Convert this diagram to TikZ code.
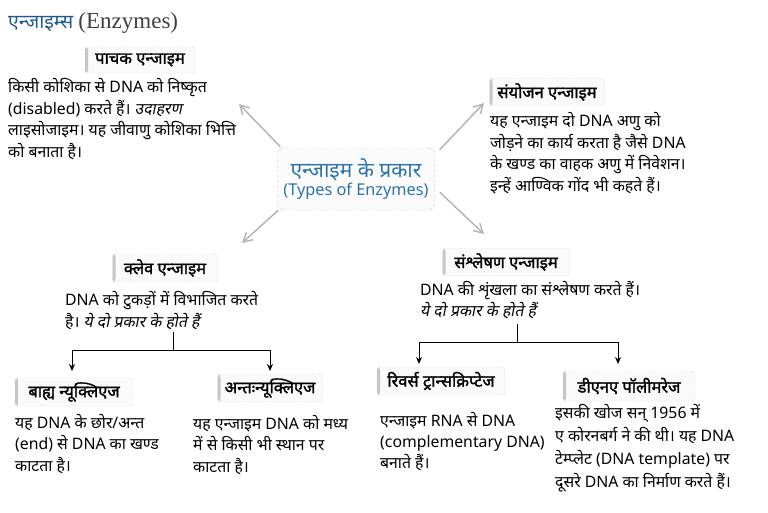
\documentclass[tikz,border=0pt]{standalone}
\usepackage{fontspec}
\setmainfont[Script=Devanagari]{Noto Sans}
\newfontfamily\slhindi[Script=Devanagari,FakeSlant=0.2]{Noto Sans}
\newfontfamily\bdhindi[Script=Devanagari,FakeBold=1.6]{Noto Sans}
\newfontfamily\enserif{Liberation Serif}
\usetikzlibrary{arrows.meta}
\definecolor{titleblue}{RGB}{30,90,140}
\definecolor{typeblue}{RGB}{45,115,165}
\begin{document}
\begin{tikzpicture}[x=1pt, y=-1pt,
  tabbox/.style={rounded corners=3pt, draw=gray!55, densely dotted, fill=gray!4,
    inner sep=0pt, font=\fontsize{16.5}{18}\bdhindi,
    path picture={\fill[gray!45] (path picture bounding box.south west) rectangle ([xshift=3pt]path picture bounding box.north west);}},
  bodytext/.style={anchor=base west, inner sep=0pt, align=left, font=\fontsize{15.8}{21.5}\selectfont},
  ptr/.style={draw=gray!60, line width=1.4pt, -{Straight Barb[length=9pt,width=10pt]}},
  branch/.style={draw=black, line width=0.8pt},
  down/.style={branch, -{Stealth[length=7pt,width=6pt]}}]
  \useasboundingbox (0,0) rectangle (768,513);
  \node[anchor=base west, inner sep=0pt, font=\fontsize{19.5}{22}\selectfont] (title) at (8,29)
    {\textcolor{titleblue}{एन्जाइम्स} {\enserif\fontsize{23}{24}\selectfont\color{black!75}(Enzymes)}};
  \node[rounded corners=6pt, draw=gray!50, densely dashed, fill=gray!3, minimum width=157, minimum height=62,
    align=center, text=typeblue, inner sep=1pt] (types) at (356,179)
    {{\fontsize{21}{22}\selectfont एन्जाइम के प्रकार}\\[1pt]{\fontsize{16.3}{18}\selectfont (Types of Enzymes)}};
  \node[tabbox, minimum width=110, minimum height=26] (pachak) at (140,60) {पाचक एन्जाइम};
  \node[bodytext] (pachaktxt) at (8,157.5) {किसी कोशिका से DNA को निष्कृत\\(disabled) करते हैं। {\slhindi उदाहरण}\\लाइसोजाइम। यह जीवाणु कोशिका भित्ति\\को बनाता है।};
  \node[tabbox, minimum width=115, minimum height=27] (sanyojan) at (547,92) {संयोजन एन्जाइम};
  \node[bodytext] (sanyojantxt) at (490,191.5) {यह एन्जाइम दो DNA अणु को\\जोड़ने का कार्य करता है जैसे DNA\\के खण्ड का वाहक अणु में निवेशन।\\इन्हें आण्विक गोंद भी कहते हैं।};
  \node[tabbox, minimum width=105, minimum height=28] (cleave) at (165,268) {क्लेव एन्जाइम};
  \node[bodytext, font=\fontsize{15.8}{22}\selectfont] (cleavetxt) at (65,327) {DNA को टुकड़ों में विभाजित करते\\है। {\slhindi ये दो प्रकार के होते हैं}};
  \node[tabbox, minimum width=127, minimum height=27] (synth) at (506,262) {संश्लेषण एन्जाइम};
  \node[bodytext, font=\fontsize{15.8}{21}\selectfont] (synthtxt) at (420,316) {DNA की शृंखला का संश्लेषण करते हैं।\\{\slhindi ये दो प्रकार के होते हैं}};
  \node[tabbox, minimum width=118, minimum height=28] (exo) at (74,392) {बाह्य न्यूक्लिएज};
  \node[bodytext] (exotxt) at (15,471) {यह DNA के छोर/अन्त\\(end) से DNA का खण्ड\\काटता है।};
  \node[tabbox, minimum width=105, minimum height=27] (endo) at (270,388) {अन्तःन्यूक्लिएज};
  \node[bodytext] (endotxt) at (193,472) {यह एन्जाइम DNA को मध्य\\में से किसी भी स्थान पर\\काटता है।};
  \node[tabbox, minimum width=128, minimum height=28] (revtr) at (441,381) {रिवर्स ट्रान्सक्रिप्टेज};
  \node[bodytext, font=\fontsize{15.8}{21}\selectfont] (revtrtxt) at (380,468) {एन्जाइम RNA से DNA\\(complementary DNA)\\बनाते हैं।};
  \node[tabbox, minimum width=132, minimum height=30] (dnapol) at (629,386) {डीएनए पॉलीमरेज};
  \node[bodytext, font=\fontsize{15.8}{23}\selectfont] (dnapoltxt) at (555,487) {इसकी खोज सन् 1956 में\\ए कोरनबर्ग ने की थी। यह DNA\\टेम्प्लेट (DNA template) पर\\दूसरे DNA का निर्माण करते हैं।};
  \coordinate (tlhead) at (239,104);
  \coordinate (trhead) at (484,103);
  \coordinate (blhead) at (242,243);
  \coordinate (brhead) at (484,234);
  \draw[ptr] ([xshift=3pt,yshift=1pt]types.north west) -- (tlhead);
  \draw[ptr] ([xshift=5pt,yshift=-2pt]types.north east) -- (trhead);
  \draw[ptr] ([xshift=1pt,yshift=0pt]types.south west) -- (blhead);
  \draw[ptr] ([xshift=5pt,yshift=18pt]types.south east) -- (brhead);
  \coordinate (cleavestem) at (173,332);
  \coordinate (cleavebar) at (173,350);
  \coordinate (exotip) at (72,371);
  \coordinate (endotip) at (270,371);
  \coordinate (synthstem) at (517,324);
  \coordinate (synthbar) at (517,342);
  \coordinate (revtrtip) at (419,364);
  \coordinate (dnapoltip) at (618,364);
  \draw[branch] (cleavestem) -- (cleavebar);
  \draw[down] (cleavebar) -| (exotip);
  \draw[down] (cleavebar) -| (endotip);
  \draw[branch] (synthstem) -- (synthbar);
  \draw[down] (synthbar) -| (revtrtip);
  \draw[down] (synthbar) -| (dnapoltip);
\end{tikzpicture}
\end{document}
